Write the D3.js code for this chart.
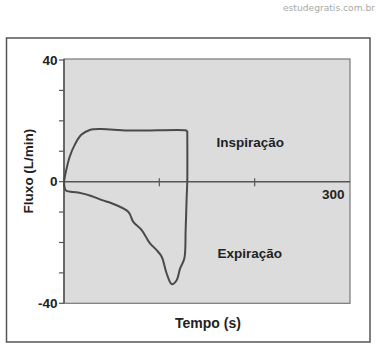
<!DOCTYPE html>
<html><head><meta charset="utf-8">
<script src="https://cdn.jsdelivr.net/npm/d3@7"></script>
<style>body{margin:0;background:#fff}svg{display:block}</style>
</head><body>
<script>
// Data
const inspTime = [0, 2.4, 6.0, 11.2, 18.1, 27.0, 39.1, 67.1, 126.9, 129.3];
const inspFlow = [0, 3.9, 8.2, 12.1, 15.4, 17.0, 17.3, 16.8, 16.9, 16.7];
const expTime = [0, 0.7, 2.4, 14.7, 28.6, 39.1, 50.0, 67.4, 72.7, 81.5, 90.2, 97.2, 102.5, 107.7, 113.0, 118.2, 121.7, 126.2, 127.6, 128.7, 129.3, 129.3];
const expFlow = [0, -2.1, -3.0, -3.6, -4.7, -6.0, -7.1, -9.9, -13.2, -15.9, -20.3, -22.5, -24.7, -30.2, -33.7, -32.4, -28.6, -25.3, -15.9, -4.9, 0, 16.7];
const yTicks = [40, 30, 20, 10, 0, -10, -20, -30, -40];
const yTickLabels = [40, 0, -40];
const xTicks = [100, 200];
const xTickLabels = [300];

const W = 380, H = 357;
const svg = d3.select("body").append("svg").attr("width", W).attr("height", H);

// watermark
svg.append("text").attr("x", 375).attr("y", 11).attr("text-anchor", "end")
  .attr("font-family", "DejaVu Sans, sans-serif").attr("font-size", 9.5)
  .attr("fill", "#a8a8a8").attr("textLength", 92).attr("lengthAdjust", "spacingAndGlyphs")
  .text("estudegratis.com.br");

// outer frame
svg.append("rect").attr("x", 6.5).attr("y", 38).attr("width", 363.5).attr("height", 304)
  .attr("fill", "#fff").attr("stroke", "#555").attr("stroke-width", 1.5);

const x = d3.scaleLinear().domain([0, 300]).range([64, 350]);
const y = d3.scaleLinear().domain([-40, 40]).range([303.3, 60]);

// plot area
svg.append("rect").attr("x", x(0)).attr("y", y(40) - 1).attr("width", x(300) - x(0)).attr("height", y(-40) - y(40) + 1)
  .attr("fill", "#dcdcdc").attr("stroke", "#777").attr("stroke-width", 1.2);

// y axis line
svg.append("line").attr("x1", x(0)).attr("x2", x(0)).attr("y1", y(40) - 1).attr("y2", y(-40))
  .attr("stroke", "#555").attr("stroke-width", 1.5);

// y ticks
svg.selectAll(".yt").data(yTicks).enter().append("line")
  .attr("x1", x(0) - 5).attr("x2", x(0)).attr("y1", d => y(d)).attr("y2", d => y(d))
  .attr("stroke", "#555").attr("stroke-width", 1.2);
svg.selectAll(".yl").data(yTickLabels).enter().append("text")
  .attr("x", 57.5).attr("y", d => y(d) + 4.5).attr("text-anchor", "end")
  .attr("font-family", "Liberation Sans, Arial, sans-serif").attr("font-weight", "bold")
  .attr("font-size", 13.5).attr("fill", "#222").text(d => d);

// x axis (zero line)
svg.append("line").attr("x1", x(0)).attr("x2", x(300)).attr("y1", y(0)).attr("y2", y(0))
  .attr("stroke", "#555").attr("stroke-width", 1.5);
svg.selectAll(".xt").data(xTicks).enter().append("line")
  .attr("x1", d => x(d)).attr("x2", d => x(d)).attr("y1", y(0) - 3.5).attr("y2", y(0) + 4.5)
  .attr("stroke", "#555").attr("stroke-width", 1.2);
svg.selectAll(".xl").data(xTickLabels).enter().append("text")
  .attr("x", d => x(d) - 5.5).attr("y", y(0) + 17).attr("text-anchor", "end")
  .attr("font-family", "Liberation Sans, Arial, sans-serif").attr("font-weight", "bold")
  .attr("font-size", 13.5).attr("fill", "#222").text(d => d);

// curves
const lineSmooth = d3.line().x(d => x(d[0])).y(d => y(d[1])).curve(d3.curveCatmullRom.alpha(0.5));
const insp = inspTime.map((t, i) => [t, inspFlow[i]]);
const exp = expTime.map((t, i) => [t, expFlow[i]]);
svg.append("path").attr("d", lineSmooth(insp)).attr("fill", "none").attr("stroke", "#4a4a4a").attr("stroke-width", 2);
svg.append("path").attr("d", lineSmooth(exp)).attr("fill", "none").attr("stroke", "#4a4a4a").attr("stroke-width", 2);

// labels
const lab = (tx, ty, s, size) => svg.append("text").attr("x", tx).attr("y", ty)
  .attr("font-family", "Liberation Sans, Arial, sans-serif").attr("font-weight", "bold")
  .attr("font-size", size).attr("fill", "#222").text(s);
lab(216.5, 147, "Inspiração", 13.5);
lab(217.5, 258, "Expiração", 13.5);
lab(175, 328, "Tempo (s)", 14);
svg.append("text").attr("transform", "translate(33,171) rotate(-90)").attr("text-anchor", "middle")
  .attr("font-family", "Liberation Sans, Arial, sans-serif").attr("font-weight", "bold")
  .attr("font-size", 13.5).attr("fill", "#222").text("Fluxo (L/min)");
</script>
</body></html>
